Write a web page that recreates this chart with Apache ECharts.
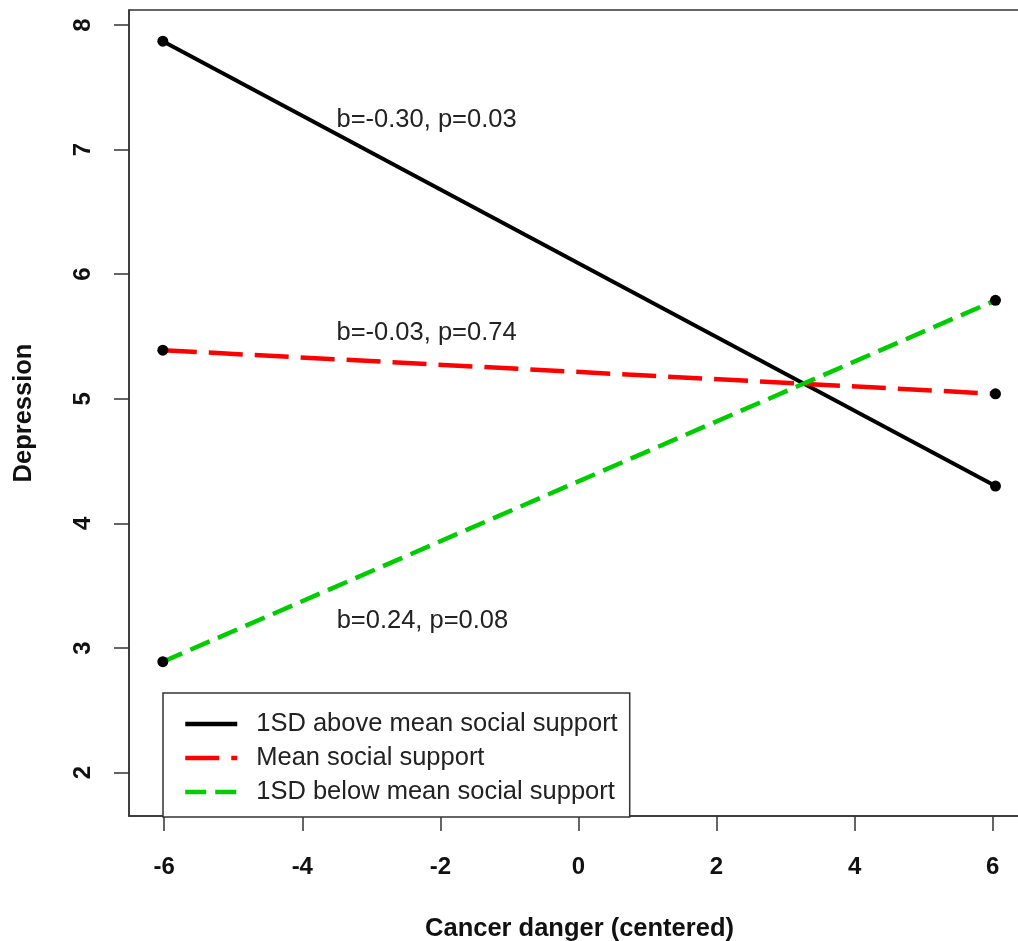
<!DOCTYPE html>
<html>
<head>
<meta charset="utf-8">
<script src="https://cdn.jsdelivr.net/npm/echarts@6/dist/echarts.min.js"></script>
<style>
html,body{margin:0;padding:0;background:#fff;}
#c{width:1018px;height:941px;}
</style>
</head>
<body>
<div id="c"></div>
<script>
// ---- data ----
const xEnds = [-6.02, 6.04];
const seriesNames = ['1SD above mean social support', 'Mean social support', '1SD below mean social support'];
const highSupport = [7.87, 4.30];
const meanSupport = [5.39, 5.04];
const lowSupport = [2.89, 5.79];
const annotationText = ['b=-0.30, p=0.03', 'b=-0.03, p=0.74', 'b=0.24, p=0.08'];
const annotationX = [-2.2, -2.2, -2.26];
const annotationY = [7.24, 5.53, 3.22];
const xTicks = [-6, -4, -2, 0, 2, 4, 6];
const yTicks = [2, 3, 4, 5, 6, 7, 8];

const FONT = 'Arial, "Liberation Sans", sans-serif';
const pairs = v => xEnds.map((x, i) => [x, v[i]]);
const colors = ['#000000', '#ff0000', '#00cd00'];
const dashes = ['solid', [34, 12], [21, 9]];
const widths = [4, 4.5, 4.5];
const values = [highSupport, meanSupport, lowSupport];

const chart = echarts.init(document.getElementById('c'), null, {renderer: 'canvas'});

const series = values.map((v, i) => ({
  name: seriesNames[i],
  type: 'line',
  data: pairs(v),
  symbol: 'none',
  lineStyle: {color: colors[i], width: widths[i], type: dashes[i]},
  itemStyle: {color: colors[i]},
  z: 3
}));
series.push({
  type: 'scatter',
  data: [].concat(...values.map(pairs)),
  symbol: 'circle',
  symbolSize: 11,
  itemStyle: {color: '#000', opacity: 1},
  z: 4,
  silent: true
});
series.push({
  type: 'scatter',
  data: annotationText.map((t, i) => ({value: [annotationX[i], annotationY[i]], name: t})),
  symbolSize: 0,
  itemStyle: {opacity: 1},
  label: {
    show: true, position: 'inside', formatter: p => p.name,
    fontFamily: FONT, fontSize: 25.5, color: '#222'
  },
  z: 5,
  silent: true
});

chart.setOption({
  animation: false,
  backgroundColor: '#fff',
  grid: {
    left: 129, top: 10, width: 901, height: 806,
    outerBoundsMode: 'none',
    containLabel: false,
    show: true, borderColor: '#333', borderWidth: 1.5, backgroundColor: 'transparent'
  },
  legend: {
    data: seriesNames,
    orient: 'vertical',
    left: 163, top: 693,
    itemWidth: 52, itemHeight: 14, itemGap: 8,
    padding: [18, 12, 12, 20],
    borderColor: '#333', borderWidth: 1.5, backgroundColor: '#fff',
    itemStyle: {color: 'transparent', borderColor: 'transparent', borderWidth: 0, opacity: 0},
    lineStyle: {width: 4.5},
    textStyle: {fontFamily: FONT, fontSize: 25.5, lineHeight: 25, color: '#222', padding: [0, 0, 0, 14]},
    selectedMode: false
  },
  xAxis: {
    type: 'value', min: -6.51, max: 6.54,
    name: 'Cancer danger (centered)', nameLocation: 'middle', nameGap: 100,
    nameTextStyle: {fontFamily: FONT, fontSize: 25.5, fontWeight: 'bold', color: '#111'},
    axisLine: {show: true, onZero: false, lineStyle: {color: '#333', width: 1.5}},
    axisTick: {show: true, length: 15, lineStyle: {color: '#333', width: 1.5}, customValues: xTicks},
    axisLabel: {fontFamily: FONT, fontSize: 24, fontWeight: 'bold', color: '#111', margin: 39, customValues: xTicks},
    splitLine: {show: false}
  },
  yAxis: {
    type: 'value', min: 1.652, max: 8.12,
    name: 'Depression', nameLocation: 'middle', nameGap: 92,
    nameTextStyle: {fontFamily: FONT, fontSize: 25.5, fontWeight: 'bold', color: '#111'},
    axisLine: {show: true, onZero: false, lineStyle: {color: '#333', width: 1.5}},
    axisTick: {show: true, length: 15, lineStyle: {color: '#333', width: 1.5}, customValues: yTicks},
    axisLabel: {fontFamily: FONT, fontSize: 24, fontWeight: 'bold', color: '#111', margin: 34, rotate: 90, customValues: yTicks},
    splitLine: {show: false}
  },
  series: series
});
</script>
</body>
</html>
